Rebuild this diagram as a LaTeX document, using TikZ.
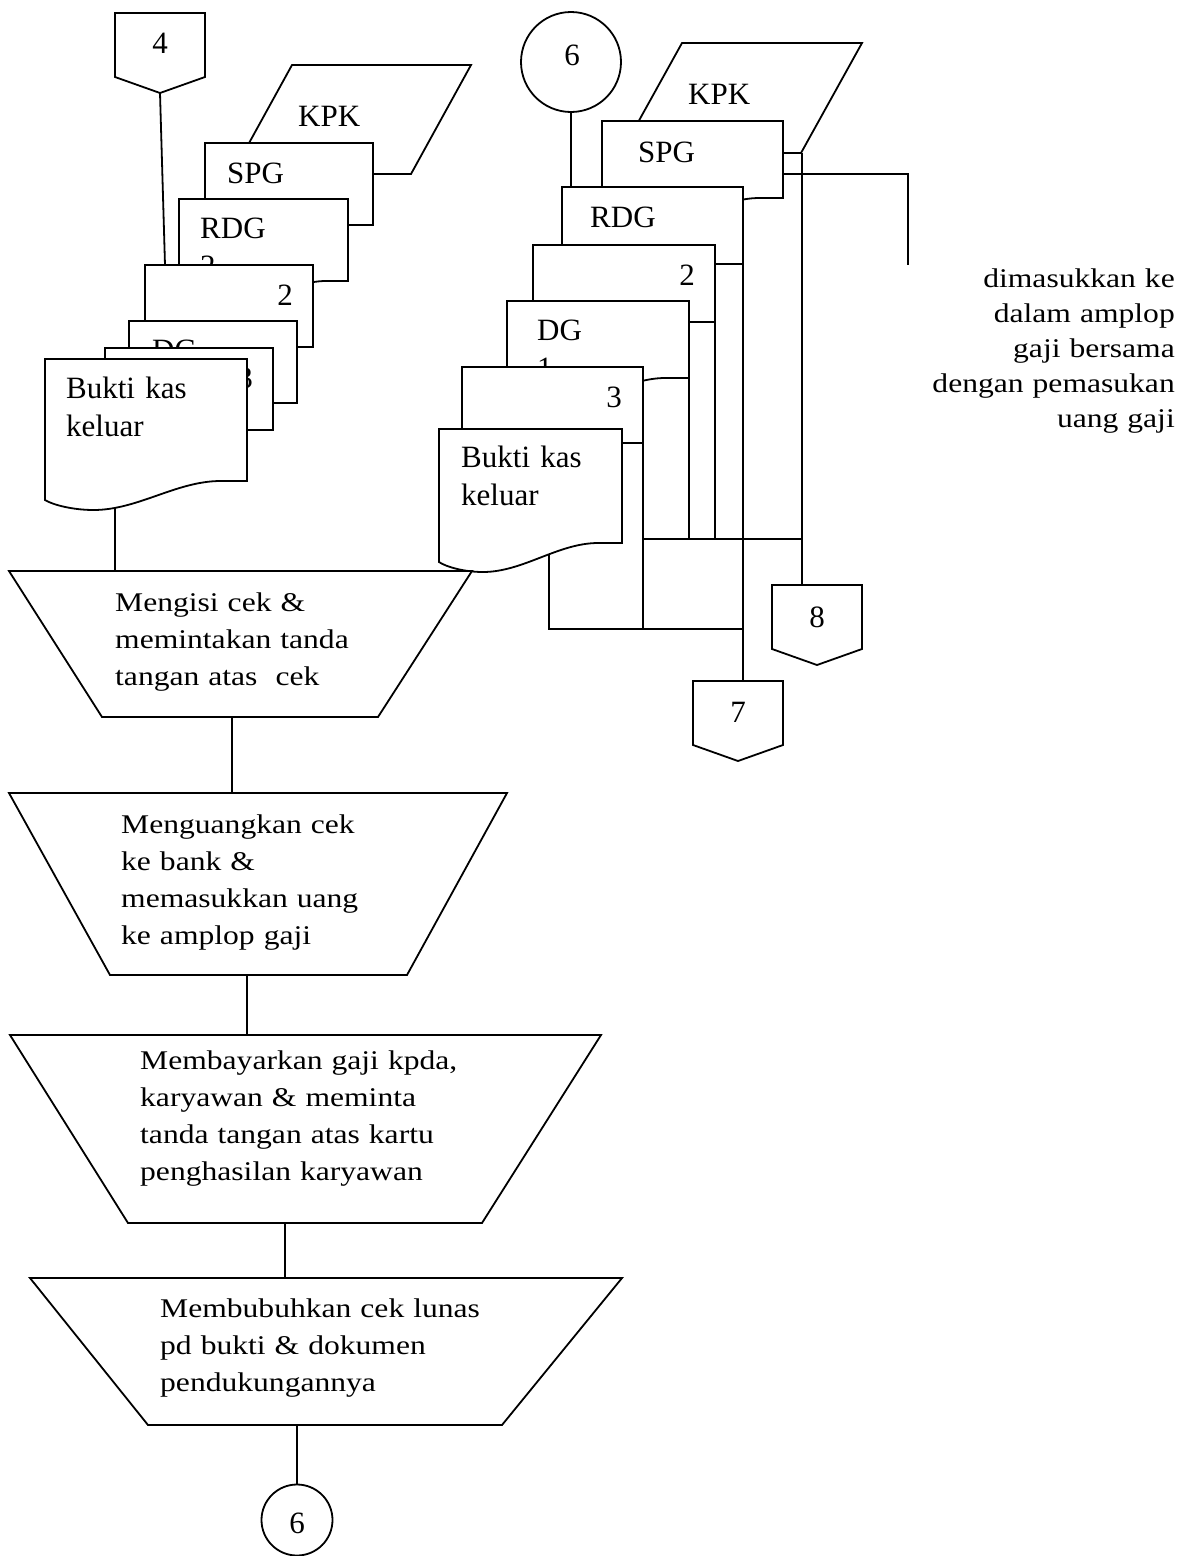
\documentclass[tikz,border=0pt]{standalone}
\usepackage{fontspec}
\setmainfont{Liberation Serif}
\newfontfamily\widefont{Liberation Serif}[FakeStretch=1.17]
\newcommand\mydoc[4]{%
 \pgfmathsetmacro\dkW{#3-#1}%
 \pgfmathsetmacro\dkB{#2+#4}%
 \pgfmathsetmacro\dkLow{#2+#4+29}%
 \pgfmathsetmacro\dkBL{#2+#4+19}%
 \pgfmathsetmacro\dkFlat{#3-0.13*\dkW}%
 \pgfmathsetmacro\dkLowX{#1+0.24*\dkW}%
 \pgfmathsetmacro\dkCa{\dkFlat-0.22*\dkW}%
 \pgfmathsetmacro\dkCb{\dkLowX+0.22*\dkW}%
 \pgfmathsetmacro\dkCc{\dkLowX-0.1*\dkW}%
 \pgfmathsetmacro\dkCd{#1+0.04*\dkW}%
 \pgfmathsetmacro\dkCe{\dkBL+5}%
 \path[docst] (#1,#2) -- (#3,#2) -- (#3,\dkB) -- (\dkFlat,\dkB) .. controls (\dkCa,\dkB) and (\dkCb,\dkLow) .. (\dkLowX,\dkLow) .. controls (\dkCc,\dkLow) and (\dkCd,\dkCe) .. (#1,\dkBL) -- cycle;}
\newcommand\offpg[2]{%
 \pgfmathsetmacro\opL{#1-45}\pgfmathsetmacro\opR{#1+45}%
 \pgfmathsetmacro\opS{#2+64}\pgfmathsetmacro\opP{#2+80}%
 \path[shp] (\opL,#2) -- (\opR,#2) -- (\opR,\opS) -- (#1,\opP) -- (\opL,\opS) -- cycle;}
\begin{document}
\begin{tikzpicture}[x=1pt,y=-1pt,
  ln/.style={draw, line width=1.8pt},
  docst/.style={draw, fill=white, line width=1.8pt},
  shp/.style={draw, fill=white, line width=1.8pt},
  dtxt/.style={inner sep=0pt, font=\fontsize{31}{38.5}\selectfont, text width=160pt, align=left, anchor=base west},
  ntxt/.style={inner sep=0pt, font=\fontsize{31}{38.5}\selectfont, anchor=base east},
  ctxt/.style={inner sep=0pt, font=\fontsize{31}{38.5}\selectfont, anchor=base},
  ttxt/.style={inner sep=0pt, font=\widefont\fontsize{27}{37}\selectfont, text width=480pt, align=left, anchor=base west},
  rtxt/.style={inner sep=0pt, font=\widefont\fontsize{27}{35.2}\selectfont, text width=300pt, align=right, anchor=base east},
  circ/.style={circle, draw, fill=white, line width=1.8pt, inner sep=0pt},
]
\useasboundingbox (0,0) rectangle (1192,1556);
% ---------- named coordinates ----------
\coordinate (p4) at (160,93);
\coordinate (d2Ltop) at (165,265);
\coordinate (bkLbot) at (115,505);
\coordinate (t1in) at (115,571);
\coordinate (t1out) at (232,717);
\coordinate (t2in) at (232,793);
\coordinate (t2out) at (247,975);
\coordinate (t3in) at (247,1035);
\coordinate (t3out) at (285,1223);
\coordinate (t4in) at (285,1278);
\coordinate (t4out) at (297,1425);
\coordinate (rdgRtop) at (571,187);
\coordinate (kpkRbr) at (802,153);
\coordinate (c8in) at (802,585);
\coordinate (spgRa) at (783,174);
\coordinate (brk) at (908,174);
\coordinate (brkend) at (908,265);
\coordinate (rdgRbr) at (743,250);
\coordinate (c7in) at (743,681);
\coordinate (d2Rbr) at (715,310);
\coordinate (d2Rend) at (715,539);
\coordinate (dgRbr) at (689,370);
\coordinate (dgRend) at (689,539);
\coordinate (d3Rbr) at (643,430);
\coordinate (d3Rend) at (643,629);
\coordinate (colA) at (643,539);
\coordinate (colB) at (802,539);
\coordinate (bkRbot) at (549,550);
\coordinate (colC) at (549,629);
\coordinate (colD) at (743,629);
% ---------- circles ----------
\node[circ, minimum size=100pt] (c6top) at (571,62) {};
\node[circ, minimum size=71pt] (c6bot) at (297,1520) {};
% ---------- connectors ----------
\draw[ln] (p4) -- (d2Ltop);
\draw[ln] (bkLbot) -- (t1in);
\draw[ln] (t1out) -- (t2in);
\draw[ln] (t2out) -- (t3in);
\draw[ln] (t3out) -- (t4in);
\draw[ln] (t4out) -- (c6bot.north);
\draw[ln] (c6top.south) -- (rdgRtop);
\draw[ln] (kpkRbr) -- (c8in);
\draw[ln] (spgRa) -- (brk) -- (brkend);
\draw[ln] (rdgRbr) -- (c7in);
\draw[ln] (d2Rbr) -- (d2Rend);
\draw[ln] (dgRbr) -- (dgRend);
\draw[ln] (d3Rbr) -- (d3Rend);
\draw[ln] (colA) -- (colB);
\draw[ln] (bkRbot) -- (colC) -- (colD);
% ---------- off-page connectors ----------
\offpg{160}{13}
\node[ctxt] (l4) at (160,53) {4};
\offpg{738}{681}
\node[ctxt] (l7) at (738,722) {7};
\offpg{817}{585}
\node[ctxt] (l8) at (817,627) {8};
\node[ctxt] (l6a) at (572,65) {6};
\node[ctxt] (l6b) at (297,1533) {6};
% ---------- left stack ----------
\path[shp] (292,65) -- (471,65) -- (411,174) -- (232,174) -- cycle;
\node[dtxt] (kpkL) at (298,126) {KPK};
\mydoc{205}{143}{373}{82}
\node[dtxt] (spgL) at (227,183) {SPG};
\mydoc{179}{199}{348}{82}
\node[dtxt] (rdgL) at (200,238) {RDG\\2};
\mydoc{145}{265}{313}{82}
\node[ntxt] (twoL) at (293,305) {2};
\mydoc{129}{321}{297}{82}
\node[dtxt] (dgL) at (152,360) {DG};
\mydoc{105}{348}{273}{82}
\node[ntxt] (threeL) at (253,388) {3};
\mydoc{45}{359}{247}{122}
\node[dtxt] (bkL) at (66,398) {Bukti kas\\keluar};
% ---------- right stack ----------
\path[shp] (682,43) -- (862,43) -- (801,153) -- (621,153) -- cycle;
\node[dtxt] (kpkR) at (688,104) {KPK};
\mydoc{602}{121}{783}{77}
\node[dtxt] (spgR) at (638,162) {SPG};
\mydoc{562}{187}{743}{77}
\node[dtxt] (rdgR) at (590,227) {RDG\\2};
\mydoc{533}{245}{715}{77}
\node[ntxt] (twoR) at (695,285) {2};
\mydoc{507}{301}{689}{77}
\node[dtxt] (dgR) at (537,340) {DG\\1};
\mydoc{462}{367}{643}{76}
\node[ntxt] (threeR) at (622,407) {3};
\mydoc{439}{429}{622}{114}
\node[dtxt] (bkR) at (461,467) {Bukti kas\\keluar};
% ---------- trapezoids ----------
\path[shp] (9,571) -- (472,571) -- (378,717) -- (102,717) -- cycle;
\node[ttxt] (tx1) at (115,611) {Mengisi cek \&\\memintakan tanda\\tangan atas~ cek};
\path[shp] (9,793) -- (507,793) -- (407,975) -- (110,975) -- cycle;
\node[ttxt] (tx2) at (121,833) {Menguangkan cek\\ke bank \&\\memasukkan uang\\ke amplop gaji};
\path[shp] (10,1035) -- (601,1035) -- (482,1223) -- (128,1223) -- cycle;
\node[ttxt] (tx3) at (140,1069) {Membayarkan gaji kpda,\\karyawan \& meminta\\tanda tangan atas kartu\\penghasilan karyawan};
\path[shp] (30,1278) -- (622,1278) -- (502,1425) -- (148,1425) -- cycle;
\node[ttxt] (tx4) at (160,1317) {Membubuhkan cek lunas\\pd bukti \& dokumen\\pendukungannya};
% ---------- note ----------
\node[rtxt] (note) at (1175,287) {dimasukkan ke\\dalam amplop\\gaji bersama\\dengan pemasukan\\uang gaji};
\end{tikzpicture}
\end{document}
